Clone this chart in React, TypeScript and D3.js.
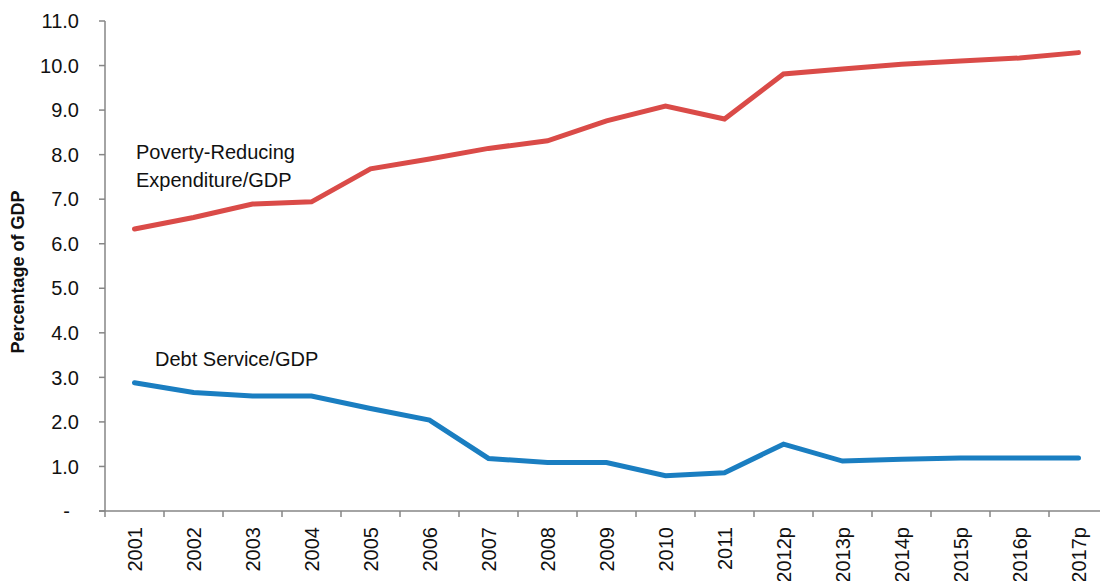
import React, { useRef, useEffect } from "react";
import * as d3 from "d3";

// Categorías (p = proyección)
const years = [
  "2001", "2002", "2003", "2004", "2005", "2006", "2007", "2008", "2009",
  "2010", "2011", "2012p", "2013p", "2014p", "2015p", "2016p", "2017p",
];

// Gasto para reducir la pobreza, % del PIB
const povertyExp = [
  6.33, 6.59, 6.89, 6.94, 7.68, 7.9, 8.14, 8.31, 8.76,
  9.09, 8.8, 9.81, 9.92, 10.03, 10.1, 10.17, 10.29,
];

// Servicio de la deuda, % del PIB
const debtService = [
  2.88, 2.66, 2.58, 2.58, 2.3, 2.04, 1.18, 1.09, 1.09,
  0.79, 0.86, 1.5, 1.12, 1.16, 1.19, 1.19, 1.19,
];

const yTicks = [0, 1, 2, 3, 4, 5, 6, 7, 8, 9, 10, 11];

const FONT = "'Liberation Sans', Arial, sans-serif";
const AXIS_GRAY = "#868686";
const TEXT = "#111";

export default function App() {
  const svgRef = useRef<SVGSVGElement>(null);

  useEffect(() => {
    if (!svgRef.current) return;
    const svg = d3.select(svgRef.current);
    svg.selectAll("*").remove();

    const left = 105;
    const right = 1108;
    const top = 21;
    const bottom = 511;

    const x = d3.scaleBand<string>().domain(years).range([left, right]);
    const y = d3.scaleLinear().domain([0, 11]).range([bottom, top]);
    const cx = (d: string) => (x(d) ?? 0) + x.bandwidth() / 2;

    // Eje Y
    const yAxis = svg.append("g");
    yAxis
      .append("line")
      .attr("x1", left)
      .attr("x2", left)
      .attr("y1", y(11))
      .attr("y2", bottom)
      .attr("stroke", AXIS_GRAY)
      .attr("stroke-width", 1.5);
    yTicks.forEach((t) => {
      yAxis
        .append("line")
        .attr("x1", left - 6)
        .attr("x2", left)
        .attr("y1", y(t))
        .attr("y2", y(t))
        .attr("stroke", AXIS_GRAY)
        .attr("stroke-width", 1.5);
      yAxis
        .append("text")
        .attr("x", t === 0 ? 70 : 79)
        .attr("y", y(t))
        .attr("dy", "0.36em")
        .attr("text-anchor", "end")
        .attr("font-family", FONT)
        .attr("font-size", 20)
        .attr("fill", TEXT)
        .text(t === 0 ? "-" : d3.format(".1f")(t));
    });

    // Eje X
    const xAxis = svg.append("g");
    xAxis
      .append("line")
      .attr("x1", left - 6)
      .attr("x2", right)
      .attr("y1", bottom)
      .attr("y2", bottom)
      .attr("stroke", AXIS_GRAY)
      .attr("stroke-width", 1.5);
    years.forEach((d) => {
      const x0 = x(d) ?? 0;
      xAxis
        .append("line")
        .attr("x1", x0)
        .attr("x2", x0)
        .attr("y1", bottom)
        .attr("y2", bottom + 6)
        .attr("stroke", AXIS_GRAY)
        .attr("stroke-width", 1.5);
      xAxis
        .append("text")
        .attr("transform", `translate(${cx(d) + 7},${bottom + 16}) rotate(-90)`)
        .attr("text-anchor", "end")
        .attr("font-family", FONT)
        .attr("font-size", 20)
        .attr("fill", TEXT)
        .text(d);
    });

    // Título eje Y
    svg
      .append("text")
      .attr("transform", `translate(24,272) rotate(-90)`)
      .attr("text-anchor", "middle")
      .attr("font-family", FONT)
      .attr("font-size", 18)
      .attr("font-weight", "bold")
      .attr("fill", TEXT)
      .text("Percentage of GDP");

    const line = d3
      .line<number>()
      .x((_, i) => cx(years[i]))
      .y((v) => y(v));

    svg
      .append("path")
      .datum(povertyExp)
      .attr("fill", "none")
      .attr("stroke", "#DA4B48")
      .attr("stroke-width", 5)
      .attr("stroke-linecap", "round")
      .attr("d", line);

    svg
      .append("path")
      .datum(debtService)
      .attr("fill", "none")
      .attr("stroke", "#1A7EC1")
      .attr("stroke-width", 5)
      .attr("stroke-linecap", "round")
      .attr("d", line);

    // Etiquetas de series
    const lbl = svg
      .append("text")
      .attr("font-family", FONT)
      .attr("font-size", 20)
      .attr("fill", TEXT);
    lbl.append("tspan").attr("x", 136).attr("y", 159).text("Poverty-Reducing");
    lbl.append("tspan").attr("x", 136).attr("y", 187).text("Expenditure/GDP");

    svg
      .append("text")
      .attr("x", 155)
      .attr("y", 366)
      .attr("font-family", FONT)
      .attr("font-size", 20)
      .attr("fill", TEXT)
      .text("Debt Service/GDP");
  }, []);

  return (
    <div style={{ position: "fixed", left: 0, top: 0, background: "#fff" }}>
      <svg ref={svgRef} width={1100} height={581} style={{ display: "block" }} />
    </div>
  );
}
